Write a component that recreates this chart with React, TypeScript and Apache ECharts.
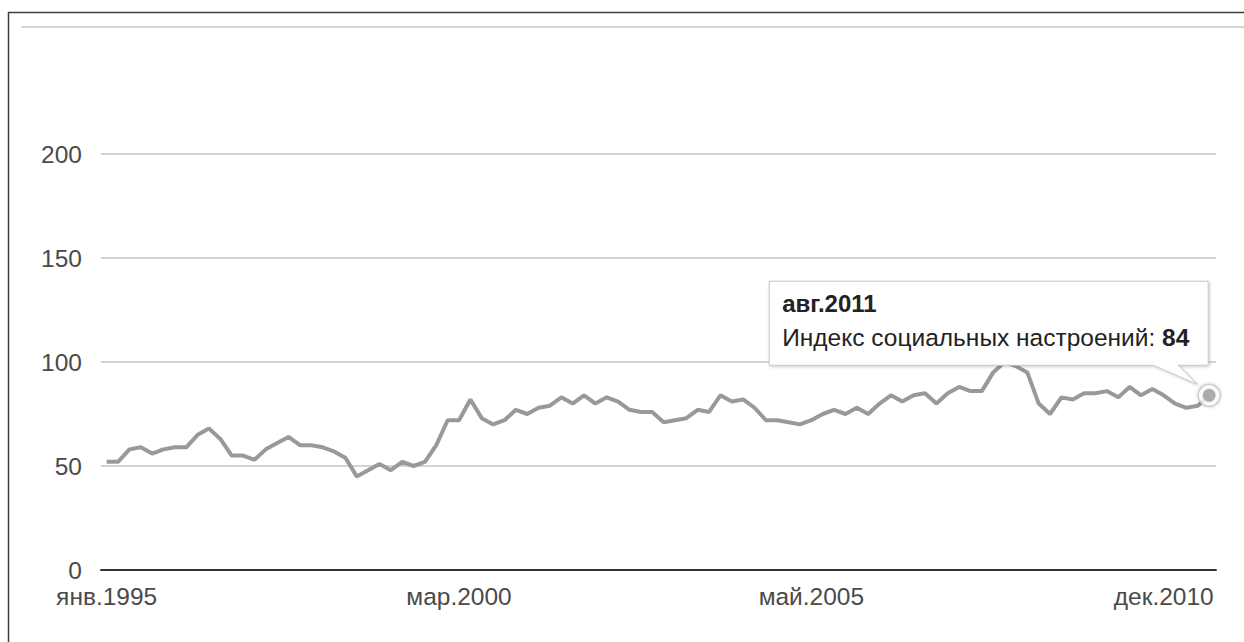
import React, { useEffect, useRef } from "react";
import * as echarts from "echarts";

// Survey periods (category labels), Jan 1995 – Aug 2011
const periods: string[] = [
  "янв.1995", "мар.1995", "май.1995", "июл.1995", "сент.1995", "нояб.1995",
  "янв.1996", "мар.1996", "май.1996", "июл.1996", "сент.1996", "нояб.1996",
  "янв.1997", "мар.1997", "май.1997", "июл.1997", "сент.1997", "нояб.1997",
  "янв.1998", "мар.1998", "май.1998", "июл.1998", "сент.1998", "нояб.1998",
  "янв.1999", "мар.1999", "май.1999", "июл.1999", "сент.1999", "нояб.1999",
  "янв.2000", "мар.2000", "май.2000", "июл.2000", "сент.2000", "нояб.2000",
  "янв.2001", "мар.2001", "май.2001", "июл.2001", "сент.2001", "нояб.2001",
  "янв.2002", "мар.2002", "май.2002", "июл.2002", "сент.2002", "нояб.2002",
  "янв.2003", "мар.2003", "май.2003", "июл.2003", "сент.2003", "нояб.2003",
  "янв.2004", "мар.2004", "май.2004", "июл.2004", "сент.2004", "нояб.2004",
  "янв.2005", "мар.2005", "май.2005", "июл.2005", "сент.2005", "нояб.2005",
  "янв.2006", "мар.2006", "май.2006", "июл.2006", "сент.2006", "нояб.2006",
  "янв.2007", "мар.2007", "май.2007", "июл.2007", "сент.2007", "нояб.2007",
  "янв.2008", "мар.2008", "май.2008", "июл.2008", "сент.2008", "нояб.2008",
  "февр.2009", "май.2009", "авг.2009", "нояб.2009",
  "февр.2010", "апр.2010", "июн.2010", "авг.2010", "окт.2010", "дек.2010",
  "февр.2011", "апр.2011", "июн.2011", "авг.2011",
];

// Индекс социальных настроений
const sentimentIndex: number[] = [
  52, 52, 58, 59, 56, 58, 59, 59, 65, 68,
  63, 55, 55, 53, 58, 61, 64, 60, 60, 59,
  57, 54, 45, 48, 51, 48, 52, 50, 52, 60,
  72, 72, 82, 73, 70, 72, 77, 75, 78, 79,
  83, 80, 84, 80, 83, 81, 77, 76, 76, 71,
  72, 73, 77, 76, 84, 81, 82, 78, 72, 72,
  71, 70, 72, 75, 77, 75, 78, 75, 80, 84,
  81, 84, 85, 80, 85, 88, 86, 86, 95, 100,
  98, 95, 80, 75, 83, 82, 85, 85, 86, 83,
  88, 84, 87, 84, 80, 78, 79, 84,
];

const xLabelIndices: number[] = [0, 31, 62, 93];
const yTicks: number[] = [0, 50, 100, 150, 200];
const seriesName = "Индекс социальных настроений";
const highlightIndex = 97;

const FONT = '"Liberation Sans", Arial, sans-serif';

export default function App() {
  const ref = useRef<HTMLDivElement>(null);

  useEffect(() => {
    if (!ref.current) return;
    const chart = echarts.init(ref.current, null, { renderer: "svg" });

    const highlightPoint = [highlightIndex, sentimentIndex[highlightIndex]];

    const option: any = {
      animation: false,
      backgroundColor: "#ffffff",
      grid: { left: 101, right: 28, top: 154, bottom: 72 },
      xAxis: {
        type: "value",
        min: -0.5,
        max: 97.6,
        splitLine: { show: false },
        axisTick: { show: false },
        axisLine: { show: true, onZero: false, lineStyle: { color: "#333333", width: 2 } },
        axisLabel: {
          customValues: xLabelIndices,
          formatter: (v: number) => periods[Math.round(v)] ?? "",
          fontSize: 24.5,
          color: "#4a4a4a",
          fontFamily: FONT,
          margin: 14,
          hideOverlap: false,
        },
      },
      yAxis: {
        type: "value",
        min: yTicks[0],
        max: yTicks[yTicks.length - 1],
        interval: 50,
        axisLine: { show: false },
        axisTick: { show: false },
        splitLine: { lineStyle: { color: "#d4d4d4", width: 2 } },
        axisLabel: { fontSize: 24.5, color: "#4a4a4a", fontFamily: FONT, margin: 19 },
      },
      series: [
        {
          type: "line",
          name: seriesName,
          data: sentimentIndex.map((v, i) => [i, v]),
          showSymbol: false,
          symbol: "none",
          lineStyle: { color: "#999999", width: 4 },
          z: 2,
        },
        {
          type: "scatter",
          name: seriesName,
          data: [highlightPoint],
          symbol: "circle",
          symbolSize: 22,
          itemStyle: {
            color: "#ffffff",
            borderColor: "#c4c4c4",
            borderWidth: 1.5,
            shadowBlur: 3,
            shadowColor: "rgba(0,0,0,0.25)",
          },
          z: 3,
        },
        {
          type: "scatter",
          name: seriesName,
          data: [highlightPoint],
          symbol: "circle",
          symbolSize: 13,
          itemStyle: { color: "#999999" },
          z: 4,
        },
      ],
    };
    chart.setOption(option);

    const [px, py] = chart.convertToPixel({ gridIndex: 0 }, highlightPoint) as number[];

    const boxL = px - 440;
    const boxR = px - 1;
    const boxT = py - 114;
    const boxB = py - 30;

    chart.setOption({
      graphic: [
        {
          type: "polyline",
          shape: { points: [[8.5, 642], [8.5, 12.5], [1244, 12.5]] },
          style: { stroke: "#3c3c3c", lineWidth: 1.5, fill: null },
          z: 10,
        },
        {
          type: "line",
          shape: { x1: 21, y1: 27, x2: 1244, y2: 27 },
          style: { stroke: "#d4d4d4", lineWidth: 2 },
          z: 10,
        },
        {
          type: "polygon",
          shape: {
            points: [
              [boxL, boxT],
              [boxR, boxT],
              [boxR, boxB],
              [px - 31, boxB],
              [px - 12, py - 11],
              [px - 56, boxB],
              [boxL, boxB],
            ],
          },
          style: {
            fill: "#ffffff",
            stroke: "#c6c6c6",
            lineWidth: 1,
            shadowBlur: 3,
            shadowOffsetX: 1,
            shadowOffsetY: 1,
            shadowColor: "rgba(0,0,0,0.2)",
          },
          z: 20,
        },
        {
          type: "text",
          x: boxL + 13,
          y: py - 92,
          style: {
            text: periods[highlightIndex],
            fontSize: 24,
            fontWeight: "bold",
            fontFamily: FONT,
            fill: "#222222",
            verticalAlign: "middle",
            align: "left",
          },
          z: 21,
        },
        {
          type: "text",
          x: boxL + 13,
          y: py - 58,
          style: {
            text: `{n|${seriesName}: }{b|${sentimentIndex[highlightIndex]}}`,
            verticalAlign: "middle",
            align: "left",
            rich: {
              n: { fontSize: 24.5, fontFamily: FONT, fill: "#222222", color: "#222222" },
              b: { fontSize: 24.5, fontFamily: FONT, fontWeight: "bold", fill: "#222222", color: "#222222" },
            },
          },
          z: 21,
        },
      ],
    });

    return () => chart.dispose();
  }, []);

  return (
    <div
      ref={ref}
      style={{ position: "absolute", left: 0, top: 0, width: 1244, height: 642, background: "#fff" }}
    />
  );
}
